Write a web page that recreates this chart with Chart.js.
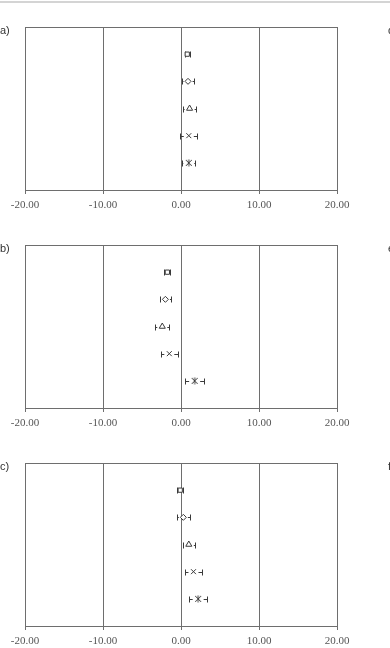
<!DOCTYPE html>
<html>
<head>
<meta charset="utf-8">
<script src="https://cdn.jsdelivr.net/npm/chart.js@4/dist/chart.umd.min.js"></script>
<style>
  body { margin: 0; background: #fff; }
  #page { position: relative; width: 390px; height: 648px; overflow: hidden; background: #fff; }
  #topline { position: absolute; left: 0; top: 1px; width: 390px; height: 2px; background: #d4d4d4; }
  .panel { position: absolute; left: 0; width: 390px; height: 218px; }
  .tag { position: absolute; font-family: "Liberation Sans", Arial, sans-serif; font-size: 11px; color: #333; line-height: 12px; }
</style>
</head>
<body>
<div id="page">
  <div id="topline"></div>
  <div class="panel" style="top:0px"><canvas id="panelA" width="390" height="218"></canvas></div>
  <div class="panel" style="top:218px"><canvas id="panelB" width="390" height="218"></canvas></div>
  <div class="panel" style="top:436px"><canvas id="panelC" width="390" height="218"></canvas></div>
  <div class="tag" style="left:0px; top:24px">a)</div>
  <div class="tag" style="left:0px; top:242px">b)</div>
  <div class="tag" style="left:0px; top:460px">c)</div>
  <div class="tag" style="left:388px; top:24px">d)</div>
  <div class="tag" style="left:388px; top:242px">e)</div>
  <div class="tag" style="left:388px; top:460px">f)</div>
</div>
<script>
// marker order, top to bottom
var markers = ['Square', 'Diamond', 'Triangle', 'Cross', 'Star'];
var xTicks = [-20, -10, 0, 10, 20];

// a)
var meansA = [0.8, 0.9, 1.1, 1.0, 1.0];
var errA = [0.3, 0.75, 0.8, 1.1, 0.85];
// b)
var meansB = [-1.75, -2.0, -2.4, -1.5, 1.75];
var errB = [0.4, 0.7, 0.9, 1.1, 1.2];
// c)
var meansC = [-0.1, 0.3, 1.0, 1.6, 2.2];
var errC = [0.4, 0.8, 0.8, 1.1, 1.15];

var lineColor = '#6e6e6e';
var markColor = '#3a3a3a';

// x with a vertical stroke, like the spreadsheet "star" marker
function asteriskMarker() {
  var c = document.createElement('canvas');
  c.width = 8; c.height = 8;
  var g = c.getContext('2d');
  g.strokeStyle = markColor;
  g.lineWidth = 1;
  g.beginPath();
  g.moveTo(1, 1); g.lineTo(7, 7);
  g.moveTo(7, 1); g.lineTo(1, 7);
  g.moveTo(4, 0.5); g.lineTo(4, 7.5);
  g.stroke();
  return c;
}
var markerStyles = ['rect', 'rectRot', 'triangle', 'crossRot', asteriskMarker()];
var markerSizes = [3, 3, 3.5, 3.5, 4];

// horizontal error bars with end caps, gap left around the marker
var errorBars = {
  id: 'errorBars',
  beforeDatasetsDraw: function(chart) {
    var ctx = chart.ctx;
    var xs = chart.scales.x, ys = chart.scales.y;
    var ds = chart.data.datasets[0];
    ctx.save();
    ctx.strokeStyle = markColor;
    ctx.lineWidth = 1;
    for (var i = 0; i < ds.data.length; i++) {
      var p = ds.data[i];
      var y = Math.round(ys.getPixelForValue(p.y)) + 0.5;
      var cx = xs.getPixelForValue(p.x);
      var x1 = Math.round(xs.getPixelForValue(p.x - ds.err[i])) + 0.5;
      var x2 = Math.round(xs.getPixelForValue(p.x + ds.err[i])) + 0.5;
      var gap = markerSizes[i] + 1.5;
      ctx.beginPath();
      if (cx - gap > x1) { ctx.moveTo(x1, y); ctx.lineTo(cx - gap, y); }
      if (cx + gap < x2) { ctx.moveTo(cx + gap, y); ctx.lineTo(x2, y); }
      ctx.moveTo(x1, y - 3); ctx.lineTo(x1, y + 3);
      ctx.moveTo(x2, y - 3); ctx.lineTo(x2, y + 3);
      ctx.stroke();
    }
    ctx.restore();
  }
};

// frame round the plot area
var frame = {
  id: 'frame',
  afterDraw: function(chart) {
    var a = chart.chartArea;
    var ctx = chart.ctx;
    ctx.save();
    ctx.strokeStyle = lineColor;
    ctx.lineWidth = 1;
    ctx.strokeRect(Math.round(a.left) + 0.5, Math.round(a.top) + 0.5,
      Math.round(a.right - a.left), Math.round(a.bottom - a.top));
    ctx.restore();
  }
};

function makePanel(id, means, errs) {
  var points = [];
  for (var i = 0; i < markers.length; i++) {
    points.push({ x: means[i], y: i + 1 });
  }
  return new Chart(document.getElementById(id), {
    type: 'scatter',
    data: {
      labels: markers,
      datasets: [{
        data: points,
        err: errs,
        pointStyle: markerStyles,
        pointRadius: markerSizes,
        pointBackgroundColor: '#fff',
        pointBorderColor: markColor,
        pointBorderWidth: 1
      }]
    },
    plugins: [errorBars, frame],
    options: {
      responsive: false,
      animation: false,
      devicePixelRatio: 1,
      layout: { padding: { left: 25, right: 53, top: 27, bottom: 0 } },
      plugins: { legend: { display: false }, tooltip: { enabled: false } },
      scales: {
        x: {
          type: 'linear',
          min: -20,
          max: 20,
          afterBuildTicks: function(axis) {
            axis.ticks = xTicks.map(function(v) { return { value: v }; });
          },
          afterFit: function(axis) { axis.height = 28; },
          grid: { color: lineColor, lineWidth: 1, tickLength: 4, drawTicks: true },
          border: { color: lineColor },
          ticks: {
            padding: 5,
            color: '#555',
            font: { family: 'Liberation Serif', size: 11 },
            callback: function(v) { return Number(v).toFixed(2); }
          }
        },
        y: {
          type: 'linear',
          display: false,
          reverse: true,
          min: 0,
          max: 6
        }
      }
    }
  });
}

makePanel('panelA', meansA, errA);
makePanel('panelB', meansB, errB);
makePanel('panelC', meansC, errC);
</script>
</body>
</html>
